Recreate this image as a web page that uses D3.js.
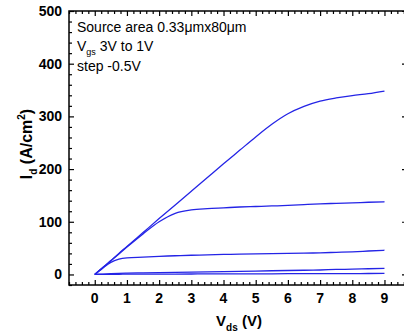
<!DOCTYPE html>
<html>
  <head>
    <meta http-equiv="Content-type" content="text/html; charset=utf-8">
    <title>Id-Vds curves</title>
    <script src="https://d3js.org/d3.v7.min.js"></script>
    <style>
      body { margin: 0; background: #fff; }
      svg { font-family: "Liberation Sans", Arial, sans-serif; }
    </style>
  </head>
  <body>
    <div id="chart"></div>
    <script type="text/javascript">
      // drain voltage grid (V)
      var vds = [0, 0.25, 0.5, 0.75, 1, 1.5, 2, 2.5, 3, 3.5, 4, 4.5, 5, 5.5, 6, 6.5, 7, 7.5, 8, 8.5, 9];
      // drain current density (A/cm2), Vgs 3V -> 1V
      var id3v0 = [0, 13, 26.5, 40, 53, 79.5, 106, 132, 158, 184, 210, 235.5, 261, 285, 305, 319, 329, 335, 339.5, 343, 348];
      var id2v5 = [0, 13, 26, 39, 52, 77, 100, 116, 122.5, 125, 126.5, 128, 129, 130, 131, 132.5, 134, 135, 136, 137, 138];
      var id2v0 = [0, 12, 23, 29, 31.5, 33, 34.5, 35.5, 36.5, 37, 38, 38.5, 39, 39.5, 40, 40.5, 41, 42, 43, 44.5, 46];
      var id1v5 = [0, 0.8, 1.5, 2, 2.5, 3, 3.5, 4, 4.5, 5, 5.5, 6, 6.5, 7, 7.5, 8, 8.5, 9.5, 10, 10.8, 11.5];
      var id1v0 = [0, 0.2, 0.3, 0.4, 0.5, 0.6, 0.7, 0.8, 0.9, 1, 1, 1.1, 1.2, 1.3, 1.4, 1.5, 1.5, 1.6, 1.7, 1.8, 1.9];
      var series = [id3v0, id2v5, id2v0, id1v5, id1v0];

      var xMajor = [0, 1, 2, 3, 4, 5, 6, 7, 8, 9];
      var yMajor = [0, 100, 200, 300, 400, 500];
      var notes = ["Source area 0.33\u03bcmx80\u03bcm", "3V to 1V", "step -0.5V"];

      var width = 404, height = 335;
      var pl = 69, pr = 407, pt = 11, pb = 285;

      var x = d3.scaleLinear().domain([-0.8, 9.7]).range([pl, pr]);
      var y = d3.scaleLinear().domain([-20, 500]).range([pb, pt]);

      var svg = d3.select("#chart").append("svg")
        .attr("width", width)
        .attr("height", height);

      var xMinor = d3.range(-0.8, 9.75, 0.2).map(function(d) { return Math.round(d * 10) / 10; })
        .filter(function(d) { return xMajor.indexOf(d) < 0; });
      var yMinor = d3.range(-20, 501, 20).filter(function(d) { return yMajor.indexOf(d) < 0; });

      function ticks(ax, vals, len, pos) {
        svg.append("g")
          .attr("transform", pos)
          .call(ax.tickValues(vals).tickSize(len).tickFormat(""))
          .call(function(g) { g.select(".domain").remove(); })
          .selectAll("line").attr("stroke", "#000").attr("stroke-width", 1.2);
      }
      // inward ticks on all four sides
      ticks(d3.axisTop(x), xMajor, 5, "translate(0," + pb + ")");
      ticks(d3.axisTop(x), xMinor, 3, "translate(0," + pb + ")");
      ticks(d3.axisBottom(x), xMajor, 5, "translate(0," + pt + ")");
      ticks(d3.axisBottom(x), xMinor, 3, "translate(0," + pt + ")");
      ticks(d3.axisRight(y), yMajor, 5, "translate(" + pl + ",0)");
      ticks(d3.axisRight(y), yMinor, 3, "translate(" + pl + ",0)");
      ticks(d3.axisLeft(y), yMajor, 5, "translate(" + pr + ",0)");
      ticks(d3.axisLeft(y), yMinor, 3, "translate(" + pr + ",0)");

      svg.append("rect")
        .attr("x", pl).attr("y", pt)
        .attr("width", pr - pl).attr("height", pb - pt)
        .attr("fill", "none").attr("stroke", "#000").attr("stroke-width", 1.5);

      // tick labels
      svg.append("g").selectAll("text").data(xMajor).enter().append("text")
        .attr("x", function(d) { return x(d); })
        .attr("y", 303)
        .attr("text-anchor", "middle")
        .style("font-size", "14px").style("font-weight", "bold")
        .text(function(d) { return d; });

      svg.append("g").selectAll("text").data(yMajor).enter().append("text")
        .attr("x", pl - 7)
        .attr("y", function(d) { return y(d) + 5; })
        .attr("text-anchor", "end")
        .style("font-size", "14px").style("font-weight", "bold")
        .text(function(d) { return d; });

      // axis titles
      var xt = svg.append("text")
        .attr("x", 239).attr("y", 326)
        .attr("text-anchor", "middle")
        .style("font-size", "15px").style("font-weight", "bold");
      xt.append("tspan").text("V");
      xt.append("tspan").attr("dy", 5).style("font-size", "10px").text("ds");
      xt.append("tspan").attr("dy", -5).text(" (V)");

      var yt = svg.append("text")
        .attr("transform", "translate(32,144) rotate(-90)")
        .attr("text-anchor", "middle")
        .style("font-size", "16px").style("font-weight", "bold");
      yt.append("tspan").text("I");
      yt.append("tspan").attr("dy", 5).style("font-size", "10px").text("d");
      yt.append("tspan").attr("dy", -5).text(" (A/cm");
      yt.append("tspan").attr("dy", -7).style("font-size", "10px").text("2");
      yt.append("tspan").attr("dy", 7).text(")");

      // annotation
      var note = svg.append("g").style("font-size", "14px");
      note.append("text").attr("x", 77).attr("y", 32).text(notes[0]);
      var n2 = note.append("text").attr("x", 77).attr("y", 51);
      n2.append("tspan").text("V");
      n2.append("tspan").attr("dy", 4).style("font-size", "9px").text("gs");
      n2.append("tspan").attr("dy", -4).text(" " + notes[1]);
      note.append("text").attr("x", 77).attr("y", 71).text(notes[2]);

      // curves
      var line = d3.line()
        .x(function(d, i) { return x(vds[i]); })
        .y(function(d) { return y(d); })
        .curve(d3.curveMonotoneX);

      svg.append("g").selectAll("path").data(series).enter().append("path")
        .attr("d", line)
        .attr("fill", "none")
        .attr("stroke", "#2424e6")
        .attr("stroke-width", 1.3);
    </script>
  </body>
</html>
